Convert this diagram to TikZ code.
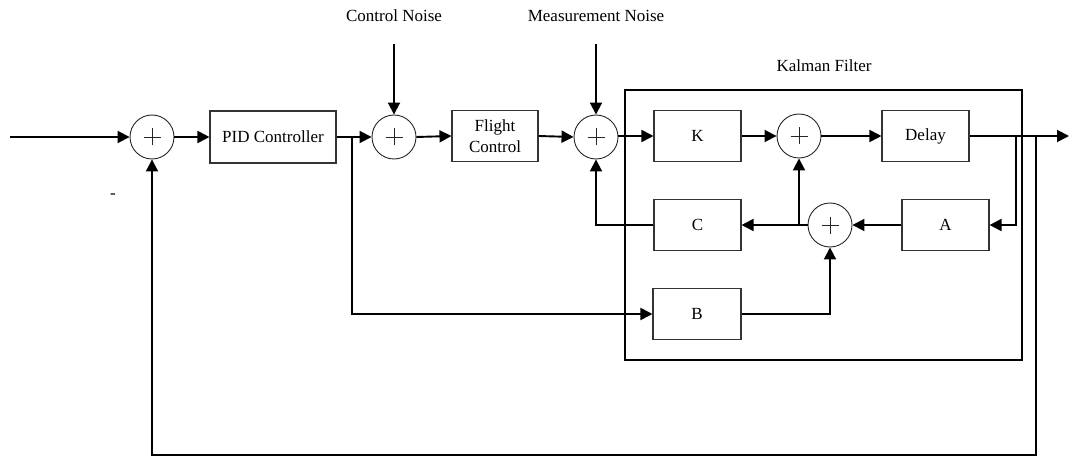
\documentclass[tikz,border=0pt]{standalone}
\usepackage{fontspec}
\setmainfont{Liberation Serif}
\usetikzlibrary{arrows.meta}
\begin{document}
\begin{tikzpicture}[x=1pt,y=-1pt,
  font=\fontsize{17}{20}\selectfont,
  blk/.style={draw=black!80,line width=1.1pt,minimum width=87pt,minimum height=51pt,inner sep=0pt,align=center},
  sumnode/.style={draw=black!85,line width=0.9pt,circle,minimum size=44pt,inner sep=0pt,
    path picture={\draw[line width=0.8pt,black!85]
      ([xshift=-8.5pt]path picture bounding box.center) -- ([xshift=8.5pt]path picture bounding box.center)
      ([yshift=-8.5pt]path picture bounding box.center) -- ([yshift=8.5pt]path picture bounding box.center);}},
  conn/.style={line width=1.9pt,black},
  arr/.style={conn,-{Triangle[length=12pt,width=12pt]}},
  lbl/.style={inner sep=0pt}
]
\useasboundingbox (0,0) rectangle (1070,457);
% Kalman filter frame
\node[draw=black,line width=1.7pt,minimum width=397pt,minimum height=270pt,inner sep=0pt] (kf) at (823.5,225) {};
\node[lbl] (kfl) at (824,66) {Kalman Filter};
% top labels
\node[lbl] (cnl) at (394,16) {Control Noise};
\node[lbl] (mnl) at (596,16) {Measurement Noise};
\node[lbl] (minus) at (113,196) {-};
% blocks
\node[sumnode] (s1) at (152,137) {};
\node[blk,minimum width=126pt,minimum height=52pt] (pid) at (273,137) {PID Controller};
\node[sumnode] (s2) at (394,137) {};
\node[blk,minimum width=86pt,minimum height=51pt] (fc) at (495,136) {Flight\\[1pt]Control};
\node[sumnode] (s3) at (596,137) {};
\node[blk] (K) at (697.5,136) {K};
\node[sumnode] (s4) at (799,136) {};
\node[blk] (D) at (925.5,136) {Delay};
\node[blk] (A) at (945.5,225) {A};
\node[sumnode] (s5) at (830,225) {};
\node[blk] (C) at (697.5,225) {C};
\node[blk,minimum width=88pt] (B) at (697,314) {B};
% coordinates
\coordinate (in) at (10,137);
\coordinate (cn) at (394,44);
\coordinate (mn) at (596,44);
\coordinate (out) at (1069,136);
\coordinate (pb) at (352,137);
\coordinate (db1) at (1016,136);
\coordinate (db2) at (1036,136);
\coordinate (fbR) at (1036,455);
\coordinate (fbL) at (152,455);
% connectors
\draw[arr] (in) -- (s1.west);
\draw[arr] (s1.east) -- (pid.west);
\draw[arr] (pid.east) -- (s2.west);
\draw[arr] (cn) -- (s2.north);
\draw[arr] (s2.east) -- (fc.west);
\draw[arr] (fc.east) -- (s3.west);
\draw[arr] (mn) -- (s3.north);
\draw[arr] (s3.east |- K.west) -- (K.west);
\draw[arr] (K.east) -- (s4.west);
\draw[arr] (s4.east) -- (D.west);
\draw[arr] (D.east) -- (out);
\draw[arr] (db1) |- (A.east);
\draw[arr] (A.west) -- (s5.east);
\draw[arr] (s5.west) -- (C.east);
\draw[arr] (s4.south |- s5.west) -- (s4.south);
\draw[arr] (C.west) -| (s3.south);
\draw[arr] (B.east) -| (s5.south);
\draw[arr] (pb) |- (B.west);
\draw[arr] (db2) -- (fbR) -- (fbL) -- (s1.south);
\end{tikzpicture}
\end{document}
